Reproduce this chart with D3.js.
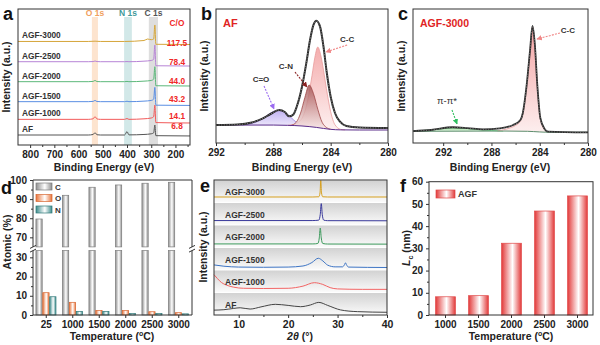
<!DOCTYPE html>
<html>
<head>
<meta charset="utf-8">
<script src="https://cdn.jsdelivr.net/npm/d3@7"></script>
<style>
body { margin: 0; background: #fff; }
svg { font-family: "Liberation Sans", Arial, sans-serif; font-weight: bold; }
</style>
</head>
<body>
<svg id="fig" width="600" height="345"></svg>
<script>
// ---- panel a : XPS survey ----
const surveyNames = ["AF", "AGF-1000", "AGF-1500", "AGF-2000", "AGF-2500", "AGF-3000"];
const surveyColors = ["#555555", "#f25a5a", "#5b8fe3", "#5cb87a", "#b784d6", "#d6a63a"];
const coRatios = ["6.8", "14.1", "43.2", "44.0", "78.4", "117.5"];
const surveyAF   = [[850,7.4],[560,7.4],[540,7.8],[532,9.1],[524,7.6],[510,7.4],[410,7.4],[400,9.9],[392,7.5],[330,7.8],[300,8.3],[290,9],[285,14.8],[281,6.9],[140,6.7]];
const survey1000 = [[850,19],[560,19],[540,19.4],[532,21],[524,19.3],[510,19],[410,19],[400,19.6],[392,19],[330,19.4],[300,20],[290,21],[285,29.6],[281,16.6],[140,16.3]];
const survey1500 = [[850,32.1],[560,32.1],[540,32.3],[532,33],[524,32.2],[510,32.1],[410,32.1],[400,32.4],[392,32.1],[330,32.5],[300,33],[290,34],[285,42.7],[281,29.5],[140,29.3]];
const survey2000 = [[850,46.9],[560,46.9],[540,47.1],[532,47.8],[524,47],[510,46.9],[410,46.9],[400,47.1],[392,46.9],[330,47.3],[300,47.8],[290,48.8],[285,58],[281,43.9],[140,43.7]];
const survey2500 = [[850,61.7],[560,61.7],[540,61.8],[532,62.2],[524,61.8],[510,61.7],[410,61.7],[400,61.8],[392,61.7],[330,62.1],[300,62.6],[290,63.5],[285,74.1],[281,58.7],[140,58.5]];
const survey3000 = [[850,76.7],[560,76.7],[532,76.9],[510,76.7],[410,76.7],[330,77.4],[315,78.5],[300,78],[290,78.5],[285,88.9],[281,74.6],[140,74.4]];
const surveyBandNames = ["O 1s", "N 1s", "C 1s"];
const surveyBandRanges = [[545, 520], [412, 380], [310, 272]];
const surveyTicks = [800, 700, 600, 500, 400, 300, 200];

// ---- panel b : C 1s of AF ----
const afBaseline = [[292,13.8],[288,13.8],[287,13.6],[286,13.1],[285,12],[284.5,11.2],[284,10.5],[283.3,10.1],[282,10],[280,10]];
const afEnvelope = [[292,13.8],[290.5,14.2],[289.5,15.8],[288.8,18.5],[288.2,22.3],[287.6,25.4],[287.2,23.8],[286.9,20.5],[286.6,22],[286.37,27.9],[286,43.3],[285.7,61.5],[285.44,79.2],[285.2,90.8],[285,94.1],[284.74,89.5],[284.5,74.1],[284.28,54.8],[284,35.6],[283.7,23.1],[283.35,16.4],[282.9,13.1],[282,11.9],[280,11.5]];
const afCC = [[287,13.6],[286.5,14.5],[286,19],[285.6,33],[285.3,52],[285.1,66],[284.9,73.8],[284.7,68],[284.5,56],[284.3,42],[284,24],[283.7,14],[283.3,10.5],[283,10.1]];
const afCN = [[286.8,13.4],[286.4,16],[286.1,23],[285.8,35],[285.5,44.6],[285.2,38],[284.9,26],[284.6,16],[284.3,12],[284,10.6]];
const afCO = [[290.2,13.9],[289.6,14.8],[289,17],[288.4,21.5],[288,24.3],[287.6,25.2],[287.2,23.8],[286.8,20],[286.4,16],[286,13.8],[285.6,13.2]];
const xpsTicks = [292, 288, 284, 280];
const xpsMinor = [290, 286, 282];

// ---- panel c : C 1s of AGF-3000 ----
const g3Baseline = [[294.5,9.0],[287,9.2],[285,9.0],[284,8.5],[283,8.2],[280,8.2]];
const g3Envelope = [[294.5,9.2],[293,10],[291.2,12.1],[290,11.5],[288.7,10.5],[287.3,11.3],[286.2,13.8],[285.6,17.7],[285.4,23.1],[285.1,43.1],[284.8,71.5],[284.6,90],[284.4,75.4],[284.2,44.6],[283.95,19.2],[283.6,10.8],[283.3,8.7],[280,8.1]];
const g3PiPi = [[294.5,9.3],[293,10],[291.2,11.8],[290,11.2],[289,10.2],[288,9.6],[287,9.2]];
const g3CC = [[287.5,9.3],[286.5,11.5],[286,13.5],[285.6,17],[285.4,22.5],[285.1,42.5],[284.8,71],[284.6,89.5],[284.4,75],[284.2,44],[283.95,18.8],[283.6,10.3],[283.3,8.5]];

// ---- panel d : atomic composition ----
const tempsD = ["25", "1000", "1500", "2000", "2500", "3000"];
const elements = ["C", "O", "N"];
const atomicC = [79.6, 92.0, 96.2, 97.4, 98.3, 98.8];
const atomicO = [11.6, 6.6, 2.4, 2.3, 1.7, 1.2];
const atomicN = [9.5, 1.9, 1.9, 0.8, 0.8, 0.6];
const elementColors = ["#8e8e8e", "#e8743b", "#3d8c8c"];

// ---- panel e : XRD ----
const xrdNames = ["AGF-3000", "AGF-2500", "AGF-2000", "AGF-1500", "AGF-1000", "AF"];
const xrdColors = ["#d6a020", "#3a3a9c", "#3c9a5c", "#3d74c4", "#f26464", "#444444"];
const xrd3000 = [[5,0.21],[25,0.21],[26.2,0.22],[26.45,0.4],[26.6,0.98],[26.75,0.4],[27,0.22],[28,0.21],[40,0.21]];
const xrd2500 = [[5,0.16],[25,0.16],[26.2,0.18],[26.5,0.45],[26.7,0.95],[26.9,0.45],[27.2,0.18],[28,0.155],[40,0.15]];
const xrd2000 = [[5,0.12],[25,0.12],[26,0.14],[26.3,0.4],[26.5,0.86],[26.7,0.4],[27,0.14],[28,0.115],[40,0.11]];
const xrd1500 = [[5,0.19],[7,0.13],[10,0.09],[15,0.08],[20,0.09],[23,0.14],[24.8,0.3],[26.1,0.5],[27,0.38],[28,0.18],[29.5,0.1],[31,0.1],[31.4,0.2],[31.6,0.29],[31.8,0.2],[32.2,0.09],[40,0.07]];
const xrd1000 = [[5,0.78],[5.7,0.6],[6.5,0.42],[7.5,0.3],[9,0.2],[11,0.15],[15,0.14],[20,0.15],[23,0.25],[25.3,0.41],[27,0.33],[28.5,0.18],[30,0.12],[35,0.1],[40,0.1]];
const xrdAF = [[5,0.18],[7,0.2],[9,0.26],[10.3,0.29],[12.3,0.23],[14.5,0.33],[17.4,0.45],[20,0.4],[22.5,0.34],[24.5,0.42],[26.2,0.54],[28,0.4],[30.6,0.19],[34,0.11],[40,0.08]];

// ---- panel f : Lc ----
const tempsF = ["1000", "1500", "2000", "2500", "3000"];
const lcValues = [8.2, 8.7, 32.3, 46.8, 53.6];

const svg = d3.select("#fig");
const defs = svg.append("defs");
const ink = "#222";

function hGrad(id, edge) {
    const g = defs.append("linearGradient").attr("id", id)
        .attr("x1", "0").attr("x2", "1").attr("y1", "0").attr("y2", "0");
    g.append("stop").attr("offset", "0").attr("stop-color", edge);
    g.append("stop").attr("offset", "0.55").attr("stop-color", "#fff");
    g.append("stop").attr("offset", "1").attr("stop-color", edge);
}
function vGrad(id, top, bottom) {
    const g = defs.append("linearGradient").attr("id", id)
        .attr("x1", "0").attr("x2", "0").attr("y1", "0").attr("y2", "1");
    g.append("stop").attr("offset", "0").attr("stop-color", top);
    g.append("stop").attr("offset", "1").attr("stop-color", bottom);
}
function arrowMarker(id, color) {
    defs.append("marker").attr("id", id)
        .attr("viewBox", "0 0 10 10").attr("refX", 9).attr("refY", 5)
        .attr("markerWidth", 5).attr("markerHeight", 5).attr("orient", "auto")
        .append("path").attr("d", "M0,0L10,5L0,10z").attr("fill", color);
}
function styleAxis(g, size) {
    g.select(".domain").remove();
    g.selectAll("line").attr("stroke", "#333");
    g.selectAll("text").attr("font-size", size || 10).attr("fill", ink)
        .attr("font-family", "Liberation Sans, Arial, sans-serif").attr("font-weight", "bold");
}
function frame(x0, y0, x1, y1) {
    svg.append("rect").attr("x", x0).attr("y", y0).attr("width", x1 - x0).attr("height", y1 - y0)
        .attr("fill", "none").attr("stroke", "#333").attr("stroke-width", 1);
}
function panelLetter(t, x, y) {
    svg.append("text").attr("x", x).attr("y", y).attr("font-size", 18).attr("fill", "#111").text(t);
}
function yTitle(t, x, y) {
    svg.append("text").attr("transform", `translate(${x},${y}) rotate(-90)`)
        .attr("text-anchor", "middle").attr("font-size", 10.5).attr("fill", ink).text(t);
}
function interp(arr, e) {
    for (let i = 0; i < arr.length - 1; i++) {
        const a = arr[i], b = arr[i + 1];
        if (e <= a[0] && e >= b[0]) return a[1] + (b[1] - a[1]) * (a[0] - e) / (a[0] - b[0]);
    }
    return arr[arr.length - 1][1];
}
function tempTitle(x, y) {
    const t = svg.append("text").attr("x", x).attr("y", y).attr("text-anchor", "middle")
        .attr("font-size", 10.5).attr("fill", ink);
    t.append("tspan").text("Temperature (");
    t.append("tspan").attr("font-size", 7).attr("dy", -4).text("o");
    t.append("tspan").attr("dy", 4).text("C)");
}

hGrad("gC", elementColors[0]); hGrad("gO", elementColors[1]); hGrad("gN", elementColors[2]);
hGrad("gRed", "#e23a3a");
vGrad("fCC", "#f3a4a4", "#fdeeee");
vGrad("fCN", "#a04a4a", "#f7e6e6");
vGrad("fCO", "#c2b2f2", "#eee9fb");
vGrad("fPi", "#98dd98", "#e9f7e9");
vGrad("fBand", "#d2d2d2", "#fbfbfb");
arrowMarker("mCC", "#f08888"); arrowMarker("mCN", "#8b2323");
arrowMarker("mCO", "#9b6cf0"); arrowMarker("mPi", "#2fbf5f");

// ================= panel a =================
const ax = d3.scaleLinear().domain([850, 140]).range([18, 190]);
const ay = d3.scaleLinear().domain([0, 100]).range([145, 10]);
const bandFills = ["#fde4cf", "#d2e8e8", "#dedede"];
const bandText = ["#f0a060", "#3f9a9a", "#555"];
surveyBandRanges.forEach((r, i) => {
    svg.append("rect").attr("x", ax(r[0])).attr("y", 17)
        .attr("width", ax(r[1]) - ax(r[0])).attr("height", 145 - 17).attr("fill", bandFills[i]);
    svg.append("text").attr("x", (ax(r[0]) + ax(r[1])) / 2).attr("y", 16)
        .attr("text-anchor", "middle").attr("font-size", 8.5).attr("fill", bandText[i]).text(surveyBandNames[i]);
});
const aLine = d3.line().x(d => ax(d[0])).y(d => ay(d[1])).curve(d3.curveMonotoneX);
const surveys = [surveyAF, survey1000, survey1500, survey2000, survey2500, survey3000];
const coLabelY = [129, 119, 102, 84, 65, 46];
surveys.forEach((s, i) => {
    svg.append("path").attr("d", aLine(s)).attr("fill", "none")
        .attr("stroke", surveyColors[i]).attr("stroke-width", 1);
    svg.append("text").attr("x", 22).attr("y", ay(s[0][1]) - 3)
        .attr("font-size", 8.3).attr("fill", "#333").text(surveyNames[i]);
    svg.append("text").attr("x", 177).attr("y", coLabelY[i]).attr("text-anchor", "middle")
        .attr("font-size", 8.3).attr("fill", "#f02828").text(coRatios[i]);
});
svg.append("text").attr("x", 177).attr("y", 26).attr("text-anchor", "middle")
    .attr("font-size", 8.3).attr("fill", "#f02828").text("C/O");
frame(18, 9, 190, 145);
svg.append("g").attr("transform", "translate(0,145)")
    .call(d3.axisBottom(ax).tickValues(surveyTicks).tickSize(3)).call(g => styleAxis(g));
svg.append("g").attr("transform", "translate(0,145)")
    .call(d3.axisBottom(ax).tickValues([750, 650, 550, 450, 350, 250, 150]).tickSize(2).tickFormat(""))
    .call(g => styleAxis(g));
svg.append("text").attr("x", 104).attr("y", 171).attr("text-anchor", "middle")
    .attr("font-size", 10.5).attr("fill", ink).text("Binding Energy (eV)");
yTitle("Intensity (a.u.)", 10, 77);
panelLetter("a", 3, 20);

// ================= panel b =================
const bx = d3.scaleLinear().domain([292, 280]).range([216, 388]);
const by = d3.scaleLinear().domain([0, 100]).range([143, 13]);
function compArea(xs, ys, base) {
    return d3.area().x(d => xs(d[0])).y0(d => ys(interp(base, d[0]))).y1(d => ys(d[1])).curve(d3.curveMonotoneX);
}
function compLine(xs, ys) {
    return d3.line().x(d => xs(d[0])).y(d => ys(d[1])).curve(d3.curveMonotoneX);
}
const bLine = compLine(bx, by);
const bArea = compArea(bx, by, afBaseline);
svg.append("path").attr("d", bArea(afCO)).attr("fill", "url(#fCO)");
svg.append("path").attr("d", bLine(afCO)).attr("fill", "none").attr("stroke", "#9a80e0").attr("stroke-width", 0.8);
svg.append("path").attr("d", bArea(afCC)).attr("fill", "url(#fCC)").attr("opacity", 0.9);
svg.append("path").attr("d", bLine(afCC)).attr("fill", "none").attr("stroke", "#e89a9a").attr("stroke-width", 0.8);
svg.append("path").attr("d", bArea(afCN)).attr("fill", "url(#fCN)").attr("opacity", 0.8);
svg.append("path").attr("d", bLine(afCN)).attr("fill", "none").attr("stroke", "#a04848").attr("stroke-width", 0.8);
svg.append("path").attr("d", bLine(afBaseline)).attr("fill", "none").attr("stroke", "#5a2c8a").attr("stroke-width", 1);
svg.append("path").attr("d", bLine(afEnvelope)).attr("fill", "none").attr("stroke", "#2b2b2b").attr("stroke-width", 2);
svg.append("path").attr("d", bLine(afEnvelope)).attr("fill", "none").attr("stroke", "#9a9a9a")
    .attr("stroke-width", 0.8).attr("stroke-dasharray", "1,1.6");
function arrow(xs, ys, from, to, color, marker) {
    svg.append("line").attr("x1", xs(from[0])).attr("y1", ys(from[1]))
        .attr("x2", xs(to[0])).attr("y2", ys(to[1]))
        .attr("stroke", color).attr("stroke-width", 1.1).attr("stroke-dasharray", "2,1.2")
        .attr("marker-end", `url(#${marker})`);
}
function note(xs, ys, at, t) {
    svg.append("text").attr("x", xs(at[0])).attr("y", ys(at[1])).attr("text-anchor", "middle")
        .attr("font-size", 8).attr("fill", "#333").text(t);
}
arrow(bx, by, [282.85, 75.4], [284.33, 70], "#f08888", "mCC");
note(bx, by, [282.85, 78], "C-C");
arrow(bx, by, [286.49, 54.6], [285.65, 43.1], "#8b2323", "mCN");
note(bx, by, [287.12, 57], "C-N");
arrow(bx, by, [288.65, 43.8], [287.95, 26.2], "#9b6cf0", "mCO");
note(bx, by, [288.86, 47], "C=O");
frame(216, 9, 388, 143);
svg.append("g").attr("transform", "translate(0,143)")
    .call(d3.axisBottom(bx).tickValues(xpsTicks).tickSize(3)).call(g => styleAxis(g));
svg.append("g").attr("transform", "translate(0,143)")
    .call(d3.axisBottom(bx).tickValues(xpsMinor).tickSize(2).tickFormat("")).call(g => styleAxis(g));
svg.append("text").attr("x", 302).attr("y", 171).attr("text-anchor", "middle")
    .attr("font-size", 10.5).attr("fill", ink).text("Binding Energy (eV)");
yTitle("Intensity (a.u.)", 208, 76);
svg.append("text").attr("x", 223).attr("y", 27).attr("font-size", 11).attr("fill", "#e02424").text("AF");
panelLetter("b", 201, 20);

// ================= panel c =================
const cx = d3.scaleLinear().domain([294.5, 280]).range([413, 588]);
const cy = by;
const cLine = compLine(cx, cy);
const cArea = compArea(cx, cy, g3Baseline);
svg.append("path").attr("d", cArea(g3PiPi)).attr("fill", "url(#fPi)");
svg.append("path").attr("d", cLine(g3PiPi)).attr("fill", "none").attr("stroke", "#4cc46c").attr("stroke-width", 0.8);
svg.append("path").attr("d", cArea(g3CC)).attr("fill", "url(#fCC)");
svg.append("path").attr("d", cLine(g3CC)).attr("fill", "none").attr("stroke", "#e89a9a").attr("stroke-width", 0.8);
svg.append("path").attr("d", cLine(g3Baseline)).attr("fill", "none").attr("stroke", "#5d8d6d").attr("stroke-width", 1);
svg.append("path").attr("d", cLine(g3Envelope)).attr("fill", "none").attr("stroke", "#2b2b2b").attr("stroke-width", 1.8);
svg.append("path").attr("d", cLine(g3Envelope)).attr("fill", "none").attr("stroke", "#9a9a9a")
    .attr("stroke-width", 0.7).attr("stroke-dasharray", "1,1.6");
arrow(cx, cy, [282.32, 84.6], [284.23, 80], "#f08888", "mCC");
note(cx, cy, [281.66, 85], "C-C");
arrow(cx, cy, [291.27, 25.4], [290.85, 14.6], "#2fbf5f", "mPi");
svg.append("text").attr("x", cx(291.68)).attr("y", cy(30)).attr("text-anchor", "middle")
    .attr("font-size", 9.5).attr("font-weight", "normal").attr("fill", "#333").text("π-π*");
frame(413, 9, 588, 143);
svg.append("g").attr("transform", "translate(0,143)")
    .call(d3.axisBottom(cx).tickValues(xpsTicks).tickSize(3)).call(g => styleAxis(g));
svg.append("g").attr("transform", "translate(0,143)")
    .call(d3.axisBottom(cx).tickValues(xpsMinor).tickSize(2).tickFormat("")).call(g => styleAxis(g));
svg.append("text").attr("x", 500).attr("y", 171).attr("text-anchor", "middle")
    .attr("font-size", 10.5).attr("fill", ink).text("Binding Energy (eV)");
yTitle("Intensity (a.u.)", 405, 76);
svg.append("text").attr("x", 420).attr("y", 27).attr("font-size", 10.5).attr("fill", "#e02424").text("AGF-3000");
panelLetter("c", 398, 20);

// ================= panel d =================
const dx0 = d3.scaleBand().domain(tempsD).range([33, 192]).paddingInner(0.22).paddingOuter(0.11);
const dx1 = d3.scaleBand().domain(elements).range([0, dx0.bandwidth()]);
const yLow = d3.scaleLinear().domain([0, 33.5]).range([315, 250.6]);
const yHigh = d3.scaleLinear().domain([65, 100]).range([246.9, 180]);
const atomic = [atomicC, atomicO, atomicN];
const grads = ["url(#gC)", "url(#gO)", "url(#gN)"];
const strokes = ["#7d7d7d", "#d8652f", "#2f7878"];
atomic.forEach((vals, k) => {
    vals.forEach((v, i) => {
        const x = dx0(tempsD[i]) + dx1(elements[k]);
        const w = dx1.bandwidth() - 0.6;
        const lowTop = yLow(Math.min(v, 33.5));
        svg.append("rect").attr("x", x).attr("y", lowTop).attr("width", w).attr("height", 315 - lowTop)
            .attr("fill", grads[k]).attr("stroke", strokes[k]).attr("stroke-width", 0.7);
        if (v > 65) {
            svg.append("rect").attr("x", x).attr("y", yHigh(v)).attr("width", w)
                .attr("height", yHigh(65) - yHigh(v))
                .attr("fill", grads[k]).attr("stroke", strokes[k]).attr("stroke-width", 0.7);
        }
    });
});
// frame with break
[[33, 180, 33, 246.9], [33, 250.6, 33, 315], [192, 180, 192, 246.9], [192, 250.6, 192, 315],
 [33, 180, 192, 180], [33, 315, 192, 315]].forEach(l => {
    svg.append("line").attr("x1", l[0]).attr("y1", l[1]).attr("x2", l[2]).attr("y2", l[3])
        .attr("stroke", "#333").attr("stroke-width", 1);
});
[33, 192].forEach(x => {
    [246.9, 250.6].forEach(y => {
        svg.append("line").attr("x1", x - 3).attr("y1", y + 1.5).attr("x2", x + 3).attr("y2", y - 1.5)
            .attr("stroke", "#333").attr("stroke-width", 1);
    });
});
svg.append("g").attr("transform", "translate(33,0)")
    .call(d3.axisLeft(yHigh).tickValues([70, 80, 90, 100]).tickSize(3)).call(g => styleAxis(g));
svg.append("g").attr("transform", "translate(33,0)")
    .call(d3.axisLeft(yLow).tickValues([0, 10, 20, 30]).tickSize(3)).call(g => styleAxis(g));
svg.append("g").attr("transform", "translate(33,0)")
    .call(d3.axisLeft(yHigh).tickValues([75, 85, 95]).tickSize(2).tickFormat("")).call(g => styleAxis(g));
svg.append("g").attr("transform", "translate(33,0)")
    .call(d3.axisLeft(yLow).tickValues([5, 15, 25]).tickSize(2).tickFormat("")).call(g => styleAxis(g));
svg.append("g").attr("transform", "translate(0,315)")
    .call(d3.axisBottom(dx0).tickSize(3)).call(g => styleAxis(g));
tempTitle(112, 340);
yTitle("Atomic (%)", 11, 242);
elements.forEach((e, k) => {
    const y = 183 + k * 11.5;
    svg.append("rect").attr("x", 36).attr("y", y).attr("width", 16).attr("height", 7)
        .attr("fill", grads[k]).attr("stroke", strokes[k]).attr("stroke-width", 0.7);
    svg.append("text").attr("x", 55).attr("y", y + 6.5).attr("font-size", 8).attr("fill", "#333").text(e);
});
panelLetter("d", 1, 194);

// ================= panel e =================
const ex = d3.scaleLinear().domain([5, 40]).range([214, 387]);
const bandH = 135 / 6;
const xrds = [xrd3000, xrd2500, xrd2000, xrd1500, xrd1000, xrdAF];
xrds.forEach((s, i) => {
    const top = 180 + i * bandH;
    const ey = d3.scaleLinear().domain([0, 1]).range([top + bandH - 1, top]);
    svg.append("rect").attr("x", 214).attr("y", top + 0.5).attr("width", 173).attr("height", bandH - 1)
        .attr("fill", "url(#fBand)");
    const ln = d3.line().x(d => ex(d[0])).y(d => ey(d[1])).curve(d3.curveMonotoneX);
    svg.append("path").attr("d", ln(s)).attr("fill", "none").attr("stroke", xrdColors[i]).attr("stroke-width", 1);
    svg.append("text").attr("x", 225).attr("y", top + 15).attr("font-size", 8.5).attr("fill", "#333").text(xrdNames[i]);
});
frame(214, 180, 387, 315);
svg.append("g").attr("transform", "translate(0,315)")
    .call(d3.axisBottom(ex).tickValues([10, 20, 30, 40]).tickSize(3)).call(g => styleAxis(g, 10.5));
svg.append("g").attr("transform", "translate(0,315)")
    .call(d3.axisBottom(ex).tickValues([15, 25, 35]).tickSize(2).tickFormat("")).call(g => styleAxis(g));
const et = svg.append("text").attr("x", 300).attr("y", 340).attr("text-anchor", "middle")
    .attr("font-size", 10.5).attr("fill", ink);
et.append("tspan").attr("font-style", "italic").text("2θ");
et.append("tspan").text(" (°)");
yTitle("Intensity (a.u.)", 207, 247);
panelLetter("e", 200, 192);

// ================= panel f =================
const fx = d3.scaleBand().domain(tempsF).range([429, 594]).paddingInner(0.4).paddingOuter(0.2);
const fy = d3.scaleLinear().domain([0, 60]).range([315, 181.7]);
svg.selectAll(".lcbar").data(lcValues).enter().append("rect")
    .attr("x", (d, i) => fx(tempsF[i])).attr("y", d => fy(d))
    .attr("width", fx.bandwidth()).attr("height", d => fy(0) - fy(d))
    .attr("fill", "url(#gRed)").attr("stroke", "#e04848").attr("stroke-width", 0.7);
frame(429, 181.7, 593, 315);
svg.append("g").attr("transform", "translate(429,0)")
    .call(d3.axisLeft(fy).tickValues([0, 10, 20, 30, 40, 50, 60]).tickSize(3)).call(g => styleAxis(g));
svg.append("g").attr("transform", "translate(429,0)")
    .call(d3.axisLeft(fy).tickValues([5, 15, 25, 35, 45, 55]).tickSize(2).tickFormat("")).call(g => styleAxis(g));
svg.append("g").attr("transform", "translate(0,315)")
    .call(d3.axisBottom(fx).tickSize(3)).call(g => styleAxis(g));
tempTitle(511, 340);
const ft = svg.append("text").attr("transform", "translate(410,248) rotate(-90)")
    .attr("text-anchor", "middle").attr("font-size", 10.5).attr("fill", ink);
ft.append("tspan").attr("font-style", "italic").text("L");
ft.append("tspan").attr("font-size", 7).attr("dy", 2.5).text("c");
ft.append("tspan").attr("dy", -2.5).text(" (nm)");
svg.append("rect").attr("x", 436).attr("y", 190).attr("width", 19).attr("height", 8)
    .attr("fill", "url(#gRed)").attr("stroke", "#e04848").attr("stroke-width", 0.7);
svg.append("text").attr("x", 458).attr("y", 197).attr("font-size", 9).attr("fill", "#333").text("AGF");
panelLetter("f", 400, 192);
</script>
</body>
</html>
